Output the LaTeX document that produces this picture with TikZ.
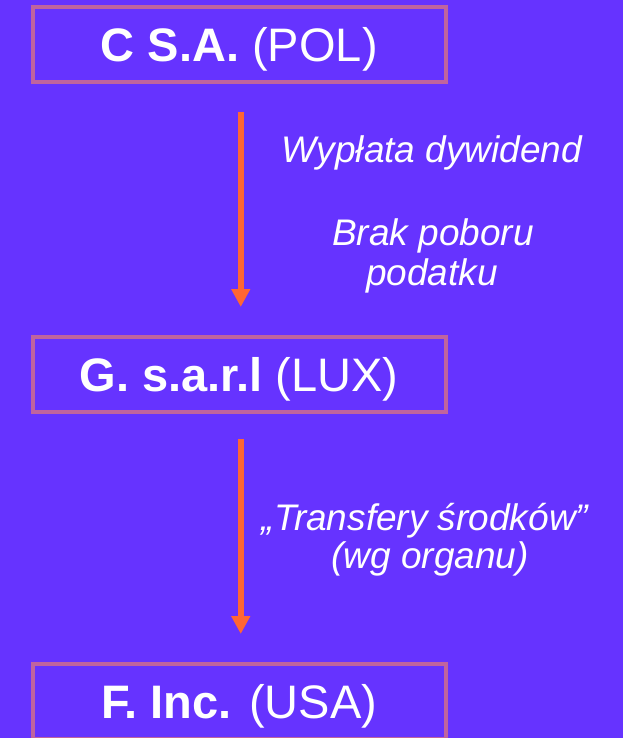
\documentclass[tikz,border=0pt]{standalone}
\usepackage{fontspec}
\setmainfont{Liberation Sans}
\usetikzlibrary{arrows.meta}
\definecolor{bgpurple}{HTML}{6633FF}
\definecolor{boxedge}{HTML}{C0649E}
\definecolor{flow}{HTML}{FF6633}
\begin{document}
\begin{tikzpicture}[x=1pt,y=-1pt,
  entity/.style={draw=boxedge, line width=4pt, minimum width=412.5pt,
    minimum height=75pt, inner sep=0pt, outer sep=0pt, text=white,
    font=\fontsize{47}{56}\selectfont, text height=34pt, text depth=0pt},
  flowarrow/.style={draw=flow, line width=5.5pt,
    -{Triangle[width=18pt,length=18pt]}},
  note/.style={text=white, font=\fontsize{37}{40}\selectfont\itshape,
    anchor=base, inner sep=0pt}]
% canvas
\fill[bgpurple] (0,0) rectangle (623,738);
\useasboundingbox (0,0) rectangle (623,738);
\clip (0,0) rectangle (623,738);

% companies
\node[entity] (csa)   at (239.25,44.5)  {\textbf{C S.A.} (POL)};
\node[entity] (gsarl) at (239.25,374.5) {\textbf{G. s.a.r.l} (LUX)};
\node[entity] (finc)  at (239.25,701.5) {\textbf{F. Inc.} (USA)};

% flows between companies
\draw[flowarrow, shorten <=30pt, shorten >=30pt]
  ([xshift=1.5pt]csa.south) -- ([xshift=1.5pt]gsarl.north);
\draw[flowarrow, shorten <=27pt, shorten >=30pt]
  ([xshift=1.5pt]gsarl.south) -- ([xshift=1.5pt]finc.north);

% flow descriptions
\node[note] (div)   at (432,163) {Wypłata dywidend};
\node[note] (wht1)  at (433,245) {Brak poboru};
\node[note] (wht2)  at (432,285) {podatku};
\node[note] (trf1)  at (425,530) {„Transfery środków”};
\node[note] (trf2)  at (430,568) {(wg organu)};
\end{tikzpicture}
\end{document}
